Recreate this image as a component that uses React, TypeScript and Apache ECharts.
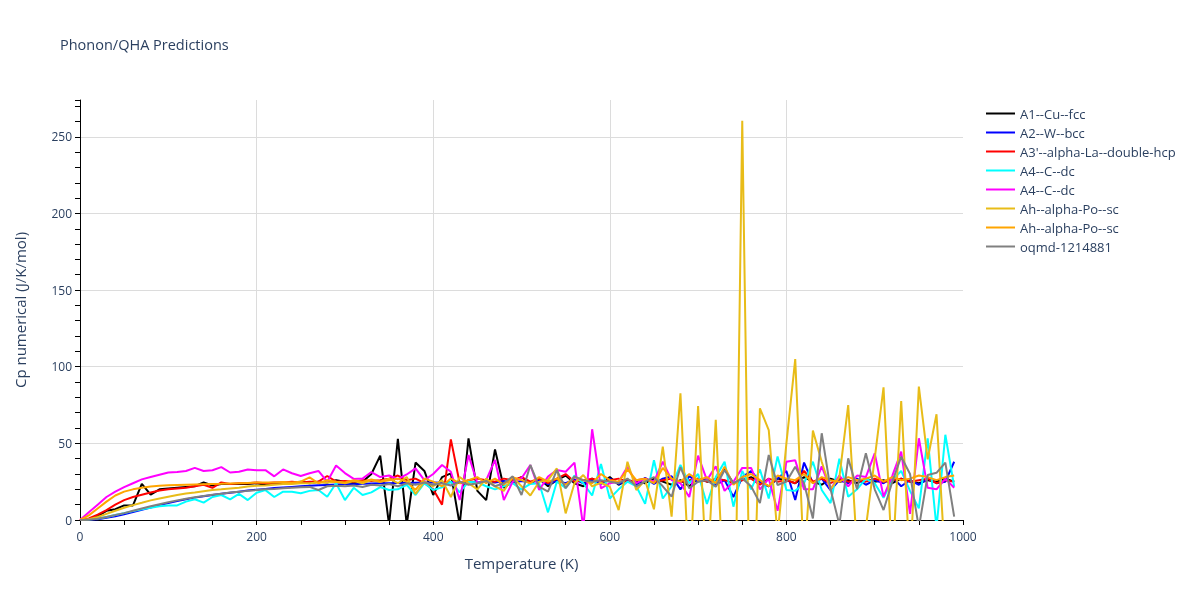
import React, { useEffect, useRef } from "react";
import * as echarts from "echarts";

const temperatures = [
  0, 10, 20, 30, 40, 50, 60, 70, 80, 90,
  100, 110, 120, 130, 140, 150, 160, 170, 180, 190,
  200, 210, 220, 230, 240, 250, 260, 270, 280, 290,
  300, 310, 320, 330, 340, 350, 360, 370, 380, 390,
  400, 410, 420, 430, 440, 450, 460, 470, 480, 490,
  500, 510, 520, 530, 540, 550, 560, 570, 580, 590,
  600, 610, 620, 630, 640, 650, 660, 670, 680, 690,
  700, 710, 720, 730, 740, 750, 760, 770, 780, 790,
  800, 810, 820, 830, 840, 850, 860, 870, 880, 890,
  900, 910, 920, 930, 940, 950, 960, 970, 980, 990,
];

const cuFcc = [
  0, 0.5, 2.5, 6, 7, 9.5, 9.5, 23.5, 16.5, 20,
  20.5, 21, 21.5, 22, 24.5, 22.5, 23.5, 23.5, 23.5, 23.5,
  24, 23, 24, 24, 24.5, 25, 24, 25, 24.5, 26,
  25, 24, 25, 30, 42, -3, 53, -3, 37.5, 32,
  16.3, 28, 30.4, -3, 53.3, 19, 13, 46, 21, 25,
  28, 24, 27, 22, 26, 29, 24, 22, 27, 24,
  28, 23, 26, 25, 24, 27, 25, 23, 26, 22,
  27, 25, 26, 33, 24, 26, 28, 25, 22, 27,
  26, 24, 28, 25, 23, 27, 25, 26, 24, 27,
  25, 26, 24, 27, 25, 24, 26, 25, 27, 25,
];

const wBcc = [
  0, 0.1, 0.5, 1.5, 2.5, 3.8, 5.2, 6.7, 8.2, 9.7,
  11, 12.3, 13.5, 14.6, 15.5, 16.3, 17.1, 17.8, 18.5, 19.2,
  19.8, 20.3, 20.8, 21.2, 21.6, 22, 22.3, 22.6, 22.9, 23.1,
  23.3, 23.4, 23.6, 23.8, 23.9, 24, 24.1, 24.2, 24.3, 24.4,
  24.5, 24.3, 24.8, 24.2, 25, 24.4, 25, 24.5, 25.5, 24.3,
  25.5, 24.5, 26, 23.5, 25.5, 24, 26.5, 24, 26, 23.5,
  27, 23.5, 26, 23, 27.5, 23.5, 27, 28.5, 20, 28.5,
  25, 27, 23, 26, 15, 28, 32, 25, 22, 27,
  32, 13, 37.5, 24, 27, 19.5, 26, 24, 27, 23,
  26, 24, 28, 22, 26, 23, 27, 24, 25, 38,
];

const laDhcp = [
  0, 1, 3.5, 6.5, 10, 13, 15, 16.5, 18, 19.2,
  20, 20.5, 21, 22, 23, 21, 24.5, 23.5, 24, 24,
  24.5, 24, 24.5, 24.5, 25, 24.5, 25, 25, 28.7, 25,
  25.5, 25, 26, 25.5, 26, 27, 29, 26, 27, 24,
  20, 10, 52.6, 24, 26, 27, 26, 25, 27, 26,
  28, 25, 27, 24, 27, 30, 25, 26, 27, 25,
  26, 27, 25, 26, 27, 25, 26, 27, 25, 26,
  27, 25, 27, 26, 24, 26, 27, 23, 27, 25,
  26, 24, 32, 25, 27, 24, 27, 25, 26, 25,
  27, 25, 26, 27, 25, 26, 27, 24, 26, 25,
];

const cDcA = [
  0, 0.3, 1, 2, 3.2, 4.5, 5.8, 7, 8, 9,
  9.4, 9.5, 12, 13.5, 11.3, 15, 16.3, 13.5, 17, 13,
  17.8, 19.5, 15, 18.5, 18.5, 17.5, 19, 19.6, 15.2, 24,
  13, 21, 16.3, 18, 21.5, 19.6, 20, 23, 16.3, 24,
  19.6, 21.3, 25, 18, 25, 24.5, 22, 20, 22, 24,
  20, 23.5, 24, 5, 25, 21, 29, 24, 16, 36.5,
  14, 20, 25, 22, 10.5, 39, 14, 22, 36, 24,
  30, 10.4, 28, 38, 8.7, 32, 20, 33, 14, 41.5,
  19.6, 19, 24, 38, 19.6, 11, 40, 15.2, 20, 27,
  24, 14.5, 26, 32, 19, 7.6, 53.3, -5, 55.6, 21.7,
];

const cDcB = [
  0, 5, 10, 15, 18.5, 21.5, 24, 26.5, 28, 29.5,
  31, 31.3, 32, 34, 32, 32.5, 34.5, 31, 31.5, 33,
  32.5, 32.5, 28.5, 33, 30.5, 28.7, 30.5, 32, 25, 35.5,
  30.6, 26.8, 27, 31.3, 28, 29, 26.6, 29.7, 33.7, 26,
  30, 35.9, 31.5, 13, 42.4, 23.9, 26, 39.2, 13, 25,
  27.2, 35.9, 19.6, 28.3, 32.6, 31.5, 37.4, -5, 59.2, 20.6,
  24, 25, 34.8, 24, 27, 25, 38, 26, 24, 15,
  42, 26, 35, 19, 25, 34, 34, 20, 27, 6,
  38, 39, 20, 20, 35, 20, 29, 22, 29, 28,
  43.5, 15.2, 29, 44.6, 4, 53.3, 21, 20, 27, 21,
];

const poScA = [
  0, 0.5, 2, 4, 6, 8, 9.7, 11.2, 12.8, 14,
  15.2, 16.3, 17.3, 18, 18.8, 19.6, 20, 20.5, 21, 21.8,
  22.3, 22.5, 23, 23.5, 23.5, 24, 24, 24.5, 24.5, 25,
  24, 25.5, 24, 26, 25, 27, 24, 28, 17, 25,
  22, 26, 15, 28, 24, 20, 27, 22, 19, 28,
  22, 16, 25, 26, 33.7, 4.3, 24, 29.3, 22, 24.3,
  21.7, 6.5, 38, 19.6, 26, 7, 47.9, 2.2, 82.7, -40,
  74.4, -40, 65.3, -60, -150, 260.5, -120, 72.9, 58.7, -10,
  50, 105, -30, 58.3, 38, 20, 28, 75, -20, -5,
  40, 86.6, -30, 77.6, -30, 87, 39.6, 69, -30, -10,
];

const poScB = [
  0, 3, 7.5, 12, 16, 18.5, 20, 21, 21.8, 22.3,
  22.6, 22.8, 23, 23.2, 23.4, 23.5, 23.6, 23.8, 24, 24.2,
  24.4, 24.5, 24.5, 24.8, 24.5, 25, 27.8, 24, 26, 25,
  24.5, 26, 25, 26.5, 25, 26, 27, 25, 19.6, 27,
  25, 22, 27, 24, 26, 28, 24, 27, 23, 28,
  26, 24, 28, 25, 27, 23, 28, 26, 24, 30,
  26, 25, 33, 26, 27, 24, 34, 27, 25, 30,
  26, 28, 24, 34.8, 23, 28, 30, 26, 22, 29,
  27, 26, 30, 24, 28, 26, 25, 28, 26, 27,
  29, 25, 28, 26, 27, 29, 28, 26, 28, 29,
];

const oqmd = [
  0, 0.2, 0.8, 2, 3.2, 4.5, 6, 7.5, 9, 10.3,
  11.6, 12.8, 13.9, 14.8, 15.7, 16.5, 17.2, 17.9, 18.5, 19,
  19.5, 20, 20.3, 20.7, 21, 21.3, 21.6, 19.6, 22, 22.3,
  22, 22.5, 21.5, 23, 22.5, 23.5, 22, 24, 23, 24.5,
  23, 24, 22.5, 25, 23, 24, 25.5, 22, 24, 28.5,
  16.3, 35.9, 21.7, 18.5, 32.6, 20.7, 28.3, 26, 25, 26,
  25, 24, 27, 22, 25, 28, 22, 15.2, 34.5, 20.7,
  25, 26, 21.7, 32.6, 24, 27, 22, 11, 42.4, 22.8,
  25, 34.8, 24, 1, 56.6, 20, -3, 40.2, 20, 43.5,
  20, 6.5, 25, 41.3, 30, -5, 29.3, 30.8, 37.4, 2.2,
];

const seriesNames = [
  "A1--Cu--fcc",
  "A2--W--bcc",
  "A3'--alpha-La--double-hcp",
  "A4--C--dc",
  "A4--C--dc ",
  "Ah--alpha-Po--sc",
  "Ah--alpha-Po--sc ",
  "oqmd-1214881",
];
const seriesColors = ["#000000", "#0000ff", "#ff0000", "#00ffff", "#ff00ff", "#e8bc18", "#ffa500", "#808080"];

const xTickStep = 200;
const yTickStep = 10;
const yLabelStep = 50;

export default function App() {
  const ref = useRef<HTMLDivElement>(null);
  useEffect(() => {
    const chart = echarts.init(ref.current!, null, { renderer: "svg" });
    const font = "'Open Sans', sans-serif";
    const textColor = "#2a3f5f";
    const gridColor = "#dcdcdc";
    const clear = "rgba(0,0,0,0)";
    const dataSets = [cuFcc, wBcc, laDhcp, cDcA, cDcB, poScA, poScB, oqmd];
    chart.setOption({
      animation: false,
      title: {
        text: "Phonon/QHA Predictions",
        left: 60,
        top: 37,
        padding: 0,
        textStyle: { fontFamily: font, fontSize: 14.5, fontWeight: "normal", color: textColor },
      },
      legend: {
        orient: "vertical",
        left: 981,
        top: 99,
        itemWidth: 29,
        itemHeight: 2,
        itemGap: 0,
        icon: "rect",
        data: seriesNames,
        textStyle: { fontFamily: font, fontSize: 13, color: textColor, lineHeight: 19 },
      },
      grid: { left: 80, top: 100, width: 883, height: 420, containLabel: false },
      xAxis: {
        type: "value",
        min: 0,
        max: 1000,
        interval: xTickStep,
        name: "Temperature (K)",
        nameLocation: "middle",
        nameGap: 35,
        nameTextStyle: { fontFamily: font, fontSize: 15, color: textColor },
        axisLine: { show: true, onZero: false, lineStyle: { color: "#000", width: 1 } },
        axisTick: { show: true, length: 5, lineStyle: { color: "#000" } },
        minorTick: { show: true, splitNumber: 4, length: 5, lineStyle: { color: "#000" } },
        axisLabel: {
          fontFamily: font,
          fontSize: 12,
          color: textColor,
          margin: 10,
          formatter: (v: number) => String(v),
        },
        splitLine: { show: true, showMaxLine: false, lineStyle: { color: gridColor, width: 1 } },
      },
      yAxis: {
        type: "value",
        min: 0,
        max: 274,
        interval: yTickStep,
        name: "Cp numerical (J/K/mol)",
        nameLocation: "middle",
        nameGap: 53,
        nameTextStyle: { fontFamily: font, fontSize: 15, color: textColor },
        axisLine: { show: true, onZero: false, lineStyle: { color: "#000", width: 1 } },
        axisTick: { show: true, length: 5, lineStyle: { color: "#000" } },
        axisLabel: {
          fontFamily: font,
          fontSize: 12,
          color: textColor,
          margin: 8,
          formatter: (v: number) => (Math.abs(v % yLabelStep) < 1e-9 ? String(v) : ""),
        },
        splitLine: {
          show: true,
          lineStyle: { color: [gridColor, clear, clear, clear, clear], width: 1 },
        },
      },
      series: dataSets.map((d, k) => ({
        name: seriesNames[k],
        type: "line",
        data: temperatures.map((t, i) => [t, d[i]]),
        showSymbol: false,
        symbol: "none",
        clip: true,
        lineStyle: { width: 2, color: seriesColors[k] },
        itemStyle: { color: seriesColors[k] },
        emphasis: { disabled: true },
      })),
    });
    return () => chart.dispose();
  }, []);
  return <div ref={ref} style={{ position: "fixed", left: 0, top: 0, width: 1200, height: 600 }} />;
}
